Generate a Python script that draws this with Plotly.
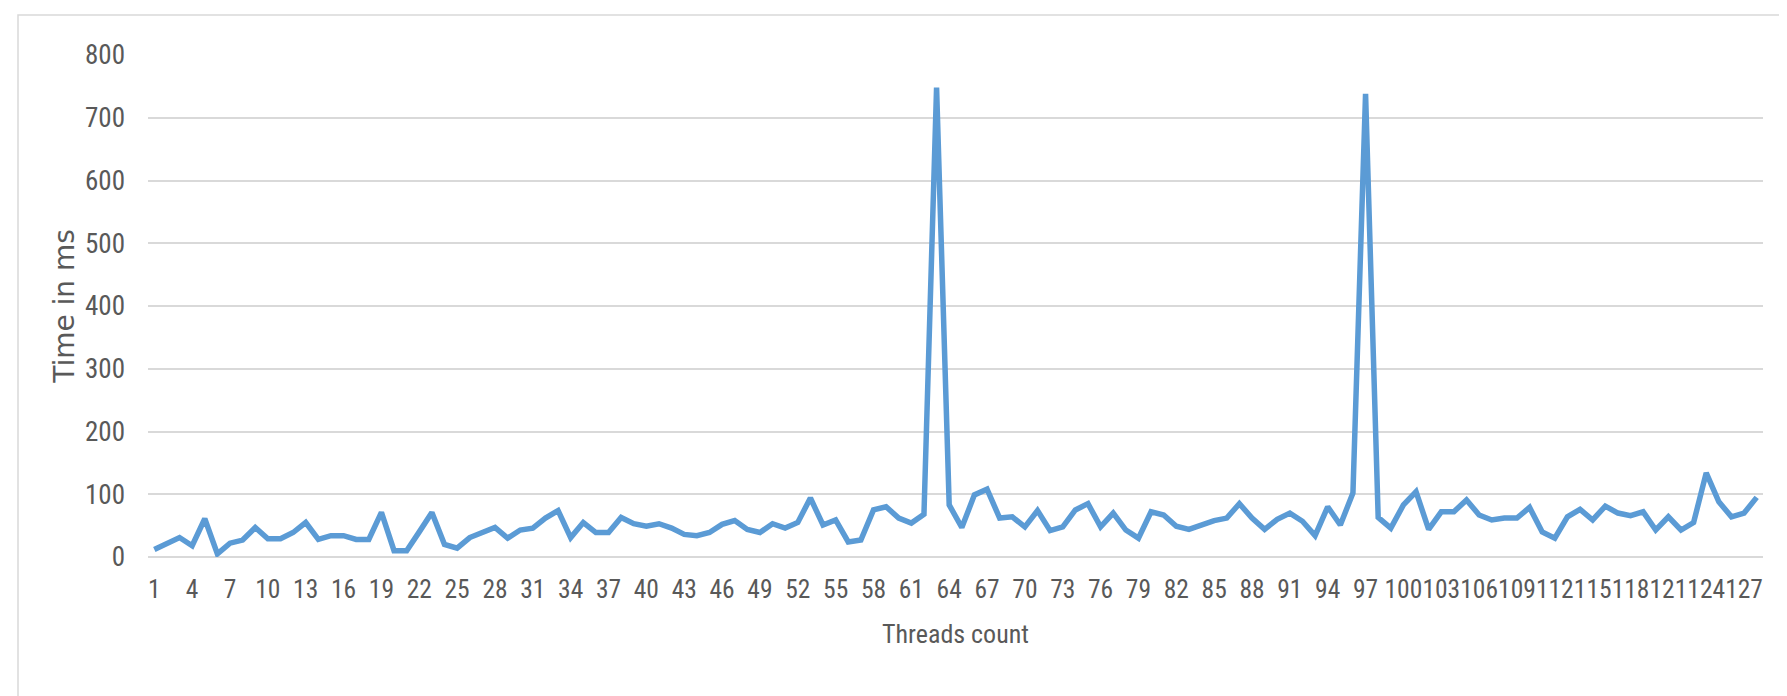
import plotly.graph_objects as go

threads = list(range(1, 129))
time_ms = [
    12, 22, 31, 18, 61, 5, 22, 27, 47, 29,
    29, 39, 55, 28, 34, 34, 28, 28, 71, 10,
    10, 40, 71, 20, 14, 31, 39, 47, 30, 43,
    46, 62, 74, 31, 55, 39, 39, 63, 53, 49,
    53, 46, 36, 34, 39, 52, 58, 44, 39, 53,
    46, 55, 94, 51, 59, 24, 27, 75, 80, 62,
    54, 68, 748, 83, 47, 99, 108, 62, 64, 48,
    74, 42, 48, 75, 85, 48, 70, 43, 30, 72,
    67, 49, 44, 51, 58, 62, 85, 62, 44, 60,
    70, 57, 34, 80, 51, 102, 738, 63, 46, 83,
    104, 44, 72, 72, 91, 67, 59, 62, 62, 79,
    40, 30, 64, 76, 59, 81, 70, 66, 72, 43,
    64, 43, 55, 134, 88, 64, 70, 95,
]
x_tick_vals = list(range(1, 129, 3))
x_tick_text = [str(v) for v in x_tick_vals]
y_tick_vals = [0, 100, 200, 300, 400, 500, 600, 700, 800]

narrow_font = "Liberation Sans Narrow, Arial Narrow, Roboto Condensed, Roboto, sans-serif"
title_font = "DejaVu Sans, sans-serif"
text_color = "#595959"

fig = go.Figure()
fig.add_trace(go.Scatter(
    x=threads, y=time_ms, mode="lines",
    line=dict(color="#5B9BD5", width=5.5),
    showlegend=False,
))

fig.update_layout(
    width=1787, height=696,
    margin=dict(l=140, r=32, t=47, b=147),
    paper_bgcolor="white", plot_bgcolor="white",
    font=dict(family=narrow_font, color=text_color, size=25),
    xaxis=dict(
        range=[0.5, 128.5], tickmode="array",
        tickvals=x_tick_vals, ticktext=x_tick_text, tickangle=0,
        showgrid=False, zeroline=False, showline=False, ticks="",
        ticklabelstandoff=14,
        tickfont=dict(family=narrow_font, size=25.5, color=text_color),
        title=dict(text="Threads count", font=dict(family=narrow_font, size=26, color=text_color), standoff=22),
    ),
    yaxis=dict(
        range=[0, 800], tickmode="array", tickvals=y_tick_vals,
        showgrid=True, gridcolor="#D9D9D9", gridwidth=1.5,
        zeroline=True, zerolinecolor="#D9D9D9", zerolinewidth=1.5,
        showline=False, ticks="", ticklabelstandoff=22,
        tickfont=dict(family=narrow_font, size=27, color=text_color),
        title=dict(text="Time in ms", font=dict(family=title_font, size=28, color=text_color), standoff=2),
    ),
)

fig.add_shape(
    type="rect", xref="paper", yref="paper",
    x0=-0.0805, x1=1.016, y0=-0.32, y1=1.0797,
    line=dict(color="#D9D9D9", width=1.5), fillcolor="rgba(0,0,0,0)",
    layer="below",
)

fig.write_html("out.html")
